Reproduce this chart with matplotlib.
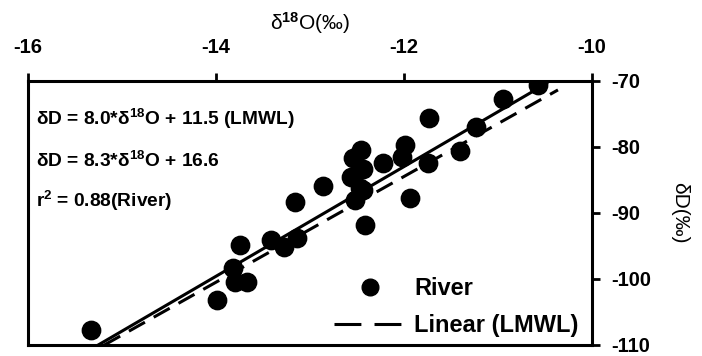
import matplotlib
matplotlib.use("Agg")
import matplotlib.pyplot as plt
import numpy as np
from matplotlib.lines import Line2D

# river samples
d18o = [-10.57, -10.94, -11.73, -11.23, -11.40, -11.99, -12.02, -11.74,
        -12.22, -12.46, -12.54, -12.43, -12.56, -12.47, -12.52, -12.43,
        -12.86, -12.41, -11.94, -13.16, -13.74, -13.41, -13.28, -13.14,
        -13.82, -13.80, -13.67, -13.99, -15.33]
dD = [-70.7, -72.8, -75.7, -77.0, -80.7, -79.7, -81.5, -82.5,
      -82.5, -80.5, -81.7, -83.3, -84.5, -86.3, -88.0, -86.5,
      -86.0, -91.8, -87.8, -88.3, -94.9, -94.1, -95.1, -93.8,
      -98.4, -100.4, -100.4, -103.2, -107.7]

# fitted lines: slope, intercept, x-extent as drawn
river_fit = (8.3, 16.6)
river_span = (-15.25, -10.48)
lmwl_fit = (8.0, 11.5)
lmwl_span = (-15.19, -10.36)

xticks = [-16, -14, -12, -10]
yticks = [-70, -80, -90, -100, -110]

plt.rcParams["font.family"] = ["Liberation Sans", "DejaVu Sans"]
plt.rcParams["font.weight"] = "bold"
plt.rcParams["axes.labelweight"] = "normal"
plt.rcParams["axes.unicode_minus"] = False
plt.rcParams["mathtext.fontset"] = "custom"
plt.rcParams["mathtext.rm"] = "Liberation Sans"
plt.rcParams["mathtext.it"] = "Liberation Sans"
plt.rcParams["mathtext.bf"] = "Liberation Sans:bold"

fig = plt.figure(figsize=(7.02, 3.56), dpi=100)
ax = fig.add_axes([0.040, 0.031, 0.803, 0.742])

ax.scatter(d18o, dD, s=175, color="black", zorder=3, label="River")

xs = np.array(river_span)
ax.plot(xs, river_fit[0] * xs + river_fit[1], color="black", lw=2.2)
xl = np.array(lmwl_span)
ax.plot(xl, lmwl_fit[0] * xl + lmwl_fit[1], color="black", lw=2.2,
        dashes=(6, 3.3))

ax.set_xlim(-16, -10)
ax.set_ylim(-110, -70)
ax.set_xticks(xticks)
ax.set_yticks(yticks)
ax.xaxis.tick_top()
ax.yaxis.tick_right()
ax.xaxis.set_label_position("top")
ax.yaxis.set_label_position("right")
ax.tick_params(direction="out", length=6, width=2, labelsize=14.5, pad=8)
ax.tick_params(axis="x", pad=11)
for lab in ax.get_xticklabels() + ax.get_yticklabels():
    lab.set_fontweight("bold")
for sp in ax.spines.values():
    sp.set_linewidth(2.2)

# axis titles are regular weight in the scan
ax.set_xlabel("δ$^{18}$O(‰)", fontsize=15, labelpad=6)
ax.set_ylabel("δD(‰)", fontsize=15, rotation=270, labelpad=27)

eq_size = 13.8
ax.text(0.014, 0.832, r"δD = 8.0*δ$^{\mathbf{18}}$O + 11.5 (LMWL)",
        transform=ax.transAxes, fontsize=eq_size)
ax.text(0.014, 0.674, r"δD = 8.3*δ$^{\mathbf{18}}$O + 16.6",
        transform=ax.transAxes, fontsize=eq_size)
ax.text(0.014, 0.523, r"r$^{\mathbf{2}}$ = 0.88(River)",
        transform=ax.transAxes, fontsize=eq_size)

handles = [
    Line2D([], [], marker="o", ls="none", color="black", markersize=12),
    Line2D([], [], color="black", lw=2.2, dashes=(8.8, 4.3)),
]
ax.legend(handles, ["River", "Linear (LMWL)"], loc="lower right",
          bbox_to_anchor=(0.993, -0.006), frameon=False, fontsize=17,
          handlelength=3.1, handletextpad=0.3, labelspacing=0.6,
          borderaxespad=0.0)

fig.savefig("out.png", dpi=100)
